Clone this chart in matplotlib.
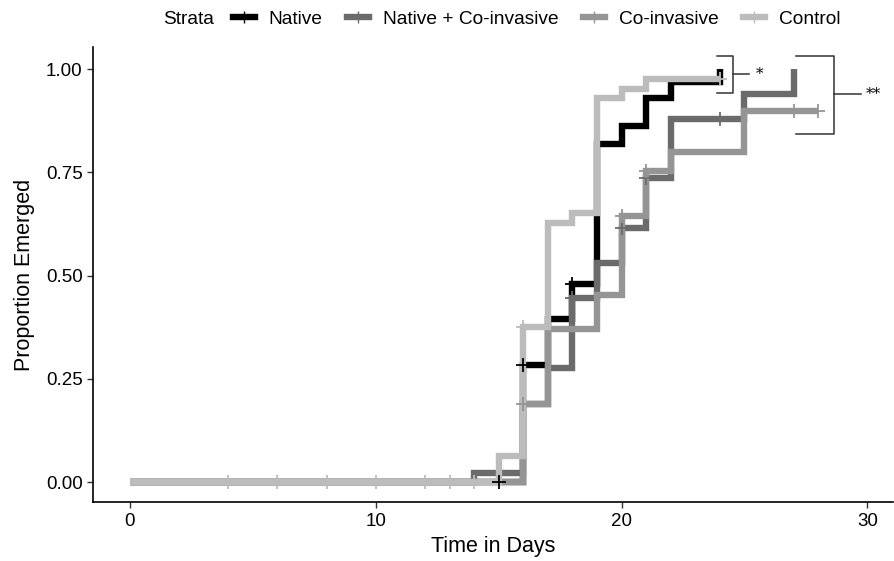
import numpy as np
import matplotlib.pyplot as plt
from matplotlib.lines import Line2D

plt.rcParams['font.family'] = ['Liberation Sans', 'DejaVu Sans']

# step curves (time, proportion emerged)
native_t = [0, 16, 17, 18, 19, 20, 21, 22, 24]
native_y = [0.0, 0.283, 0.395, 0.48, 0.818, 0.862, 0.93, 0.968, 1.0]
native_cens = [15, 16, 18]

natco_t = [0, 14, 16, 17, 18, 19, 20, 21, 22, 25, 27]
natco_y = [0.0, 0.022, 0.19, 0.277, 0.445, 0.53, 0.615, 0.736, 0.88, 0.94, 1.0]
natco_cens = [18, 20, 21, 24]

coinv_t = [0, 16, 17, 19, 20, 21, 22, 25, 28]
coinv_y = [0.0, 0.19, 0.37, 0.452, 0.644, 0.753, 0.80, 0.898, 0.898]
coinv_cens = [16, 20, 21, 27, 28]

ctrl_t = [0, 15, 16, 17, 18, 19, 20, 21, 24]
ctrl_y = [0.0, 0.0625, 0.375, 0.627, 0.651, 0.93, 0.952, 0.976, 0.976]
ctrl_cens = [4, 6, 8, 10, 12, 13, 14, 16, 24]

labels = ['Native', 'Native + Co-invasive', 'Co-invasive', 'Control']
colors = ['#000000', '#6b6b6b', '#959595', '#bcbcbc']
series = [(native_t, native_y, native_cens),
          (natco_t, natco_y, natco_cens),
          (coinv_t, coinv_y, coinv_cens),
          (ctrl_t, ctrl_y, ctrl_cens)]

fig = plt.figure(figsize=(8.95, 5.61), dpi=100)
ax = fig.add_axes([0.104, 0.105, 0.894, 0.811])

for (t, y, cens), col in zip(series, colors):
    t = np.array(t, dtype=float)
    y = np.array(y)
    ax.step(t, y, where='post', color=col, lw=4.6,
            solid_joinstyle='miter', solid_capstyle='butt', zorder=2)
    idx = np.searchsorted(t, cens, side='right') - 1
    ax.plot(cens, y[idx], ls='none', marker='+', color=col,
            markersize=10, markeredgewidth=1.3, zorder=3)

# significance brackets
bk = '#333333'
ax.plot([23.9, 24.55, 24.55, 23.9], [1.031, 1.031, 0.942, 0.942], color=bk, lw=1.1, clip_on=False)
ax.plot([24.55, 25.2], [0.988, 0.988], color=bk, lw=1.1, clip_on=False)
ax.text(25.45, 0.988, '*', fontsize=11, ha='left', va='center', family='DejaVu Serif')
ax.plot([27.1, 28.65, 28.65, 27.1], [1.031, 1.031, 0.843, 0.843], color=bk, lw=1.1, clip_on=False)
ax.plot([28.65, 29.75], [0.94, 0.94], color=bk, lw=1.1, clip_on=False)
ax.text(29.95, 0.94, '**', fontsize=11, ha='left', va='center', family='DejaVu Serif')

ax.set_xlim(-1.5, 31.05)
ax.set_ylim(-0.048, 1.053)
ax.set_xticks([0, 10, 20, 30])
ax.set_yticks([0, 0.25, 0.5, 0.75, 1.0])
ax.set_yticklabels(['0.00', '0.25', '0.50', '0.75', '1.00'])
ax.tick_params(labelsize=13.5, length=4, width=1, color='#333333', labelcolor='black')
ax.spines[['top', 'right']].set_visible(False)
ax.spines[['left', 'bottom']].set_linewidth(1.2)
ax.set_xlabel('Time in Days', fontsize=15.5, labelpad=5)
ax.set_ylabel('Proportion Emerged', fontsize=15.5, labelpad=8)

# legend on top
handles = [Line2D([], [], color=c, lw=4.6, marker='|', markersize=8,
                  markeredgewidth=1.0) for c in colors]
fig.text(0.182, 0.966, 'Strata', fontsize=13.8, ha='left', va='center')
fig.legend(handles, labels, ncol=4, loc='center left', bbox_to_anchor=(0.26, 0.966),
           frameon=False, fontsize=13.8, handlelength=1.15, handletextpad=0.7,
           columnspacing=1.3, borderaxespad=0, borderpad=0)

fig.savefig('out.png', dpi=100)
